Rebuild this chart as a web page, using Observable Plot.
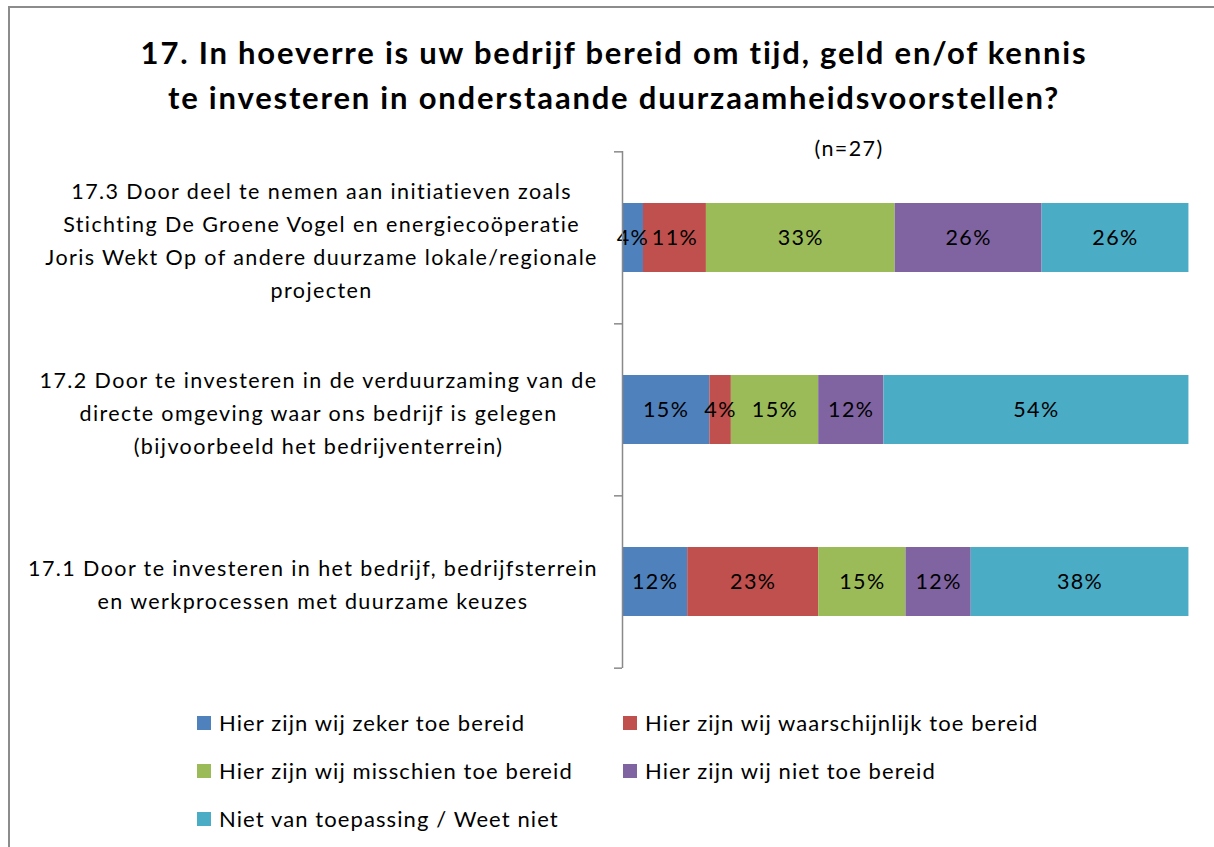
<!DOCTYPE html>
<html>
<head>
<meta charset="utf-8">
<script src="https://cdn.jsdelivr.net/npm/d3@7"></script>
<script src="https://cdn.jsdelivr.net/npm/@observablehq/plot@0.6"></script>
<style>
  html, body { margin: 0; padding: 0; background: #fff; }
  #page { position: relative; width: 1214px; height: 847px; overflow: hidden; font-family: Lato, "Open Sans", sans-serif; color: #000; }
  #frame { position: absolute; left: 8px; top: 6px; width: 1300px; height: 900px; border-left: 2px solid #8c8c8c; border-top: 2px solid #8c8c8c; box-sizing: border-box; }
  #title { position: absolute; left: 14px; top: 30px; width: 1200px; text-align: center; font-weight: bold; font-size: 31px; letter-spacing: 1.8px; line-height: 45px; }
  #subtitle { position: absolute; left: 799px; top: 136px; width: 100px; text-align: center; font-size: 21.5px; letter-spacing: 1.4px; line-height: 24px; }
  #chart { position: absolute; left: 0; top: 150px; }
  #chart text { letter-spacing: 1.4px; }
  .leg { position: absolute; display: flex; align-items: center; font-size: 22px; letter-spacing: 1.1px; line-height: 24px; white-space: nowrap; }
  .sw { width: 14px; height: 14px; margin-right: 8px; flex: none; }
</style>
</head>
<body>
<div id="page">
  <div id="frame"></div>
  <div id="title"></div>
  <div id="subtitle"></div>
  <div id="chart"></div>
  <div id="legend"></div>
</div>
<script>
// ---- data ----
const titleLines = [
  "17. In hoeverre is uw bedrijf bereid om tijd, geld en/of kennis",
  "te investeren in onderstaande duurzaamheidsvoorstellen?"
];
const subtitle = "(n=27)";
const categories = ["17.3", "17.2", "17.1"];
const categoryLabels = [
  "17.3 Door deel te nemen aan initiatieven zoals\nStichting De Groene Vogel en energiecoöperatie\nJoris Wekt Op of andere duurzame lokale/regionale\nprojecten",
  "17.2 Door te investeren in de verduurzaming van de\ndirecte omgeving waar ons bedrijf is gelegen\n(bijvoorbeeld het bedrijventerrein)",
  "17.1 Door te investeren in het bedrijf, bedrijfsterrein\nen werkprocessen met duurzame keuzes"
];
const series = [
  "Hier zijn wij zeker toe bereid",
  "Hier zijn wij waarschijnlijk toe bereid",
  "Hier zijn wij misschien toe bereid",
  "Hier zijn wij niet toe bereid",
  "Niet van toepassing / Weet niet"
];
const colors = ["#4F81BD", "#C0504D", "#9BBB59", "#8064A2", "#4BACC6"];
// percentages per category, in series order
const values173 = [3.7, 11.1, 33.3, 25.9, 25.9];
const values172 = [15.4, 3.8, 15.4, 11.5, 53.8];
const values171 = [11.5, 23.1, 15.4, 11.5, 38.4];
const valuesByCat = [values173, values172, values171];

// ---- layout ----
const W = 1214, H = 520, mL = 622, mR = 25, mT = 1, mB = 2;
const labelFont = 21.5, labelSpacing = 1.4, labelLineH = 33, gap = 25, tickPx = 8;
const plotW = W - mL - mR;
const step = (H - mT - mB) / categories.length;

const rows = [];
categories.forEach((c, i) => series.forEach((s, j) => rows.push({cat: c, series: s, value: valuesByCat[i][j]})));

document.getElementById("title").innerHTML = titleLines.join("<br>");
document.getElementById("subtitle").textContent = subtitle;

const ctx = document.createElement("canvas").getContext("2d");
ctx.font = `${labelFont}px Lato`;
const labelMarks = categories.map((c, i) => {
  const lines = categoryLabels[i].split("\n");
  const maxW = d3.max(lines, l => ctx.measureText(l).width + (l.length - 1) * labelSpacing);
  return Plot.text([c], {
    x: () => 0, y: d => d, text: () => categoryLabels[i],
    textAnchor: "middle", dx: -(gap + maxW / 2),
    fontSize: labelFont, lineHeight: labelLineH / labelFont, fill: "#000"
  });
});

const tickX = tickPx / plotW * 100;
const plot = Plot.plot({
  width: W, height: H,
  marginLeft: mL, marginRight: mR, marginTop: mT, marginBottom: mB,
  style: {fontFamily: "Lato, 'Open Sans', sans-serif", background: "transparent"},
  x: {domain: [0, 100], axis: null},
  y: {domain: categories, axis: null, paddingInner: 0.6, paddingOuter: 0.3},
  color: {domain: series, range: colors},
  marks: [
    Plot.barX(rows, Plot.stackX({x: "value", y: "cat", fill: "series", order: null})),
    Plot.text(rows, Plot.stackX({x: "value", y: "cat", z: "series", order: null,
      text: d => Math.round(d.value) + "%", fontSize: 21.5, fill: "#000"})),
    Plot.ruleX([0], {stroke: "#898989", strokeWidth: 1.5}),
    Plot.ruleY(categories, {y: d => d, x1: -tickX, x2: 0, dy: -step / 2, stroke: "#898989", strokeWidth: 1.5}),
    Plot.ruleY(categories.slice(-1), {y: d => d, x1: -tickX, x2: 0, dy: step / 2, stroke: "#898989", strokeWidth: 1.5}),
    ...labelMarks
  ]
});
document.getElementById("chart").appendChild(plot);

// ---- legend ----
const legendPos = [
  {left: 197, top: 723}, {left: 623, top: 723},
  {left: 197, top: 771}, {left: 623, top: 771},
  {left: 197, top: 819}
];
const leg = document.getElementById("legend");
series.forEach((s, i) => {
  const el = document.createElement("div");
  el.className = "leg";
  el.style.left = legendPos[i].left + "px";
  el.style.top = (legendPos[i].top - 12) + "px";
  el.innerHTML = `<span class="sw" style="background:${colors[i]}"></span><span>${s}</span>`;
  leg.appendChild(el);
});
</script>
</body>
</html>
